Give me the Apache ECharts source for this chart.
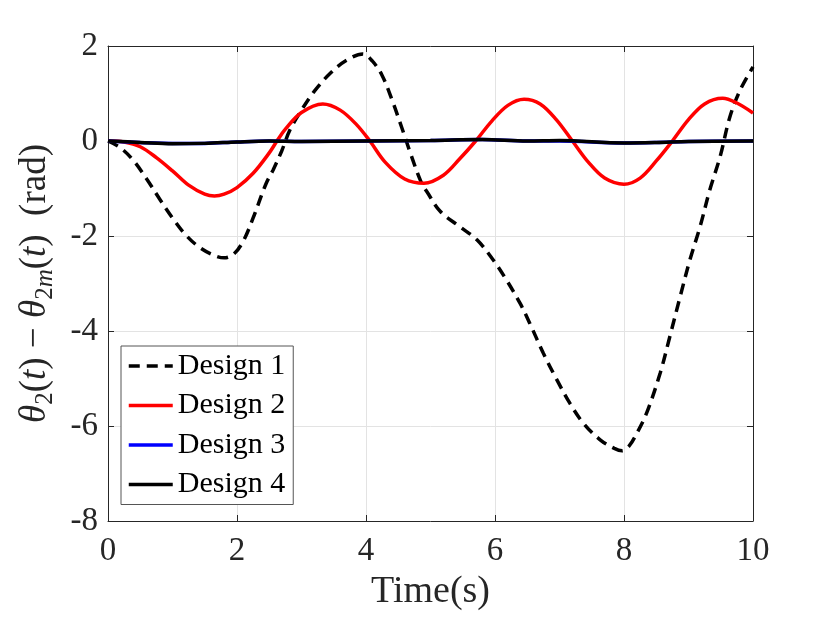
<!DOCTYPE html>
<html>
<head>
<meta charset="utf-8">
<script src="https://cdn.jsdelivr.net/npm/echarts@6/dist/echarts.min.js"></script>
<style>
  html, body { margin: 0; padding: 0; background: #fff; }
  #chart_plot_01 { width: 830px; height: 623px; }
</style>
</head>
<body>
<div id="chart_plot_01"></div>
<script>
// legend names
let design_names = ['Design 1', 'Design 2', 'Design 3', 'Design 4'];

// axis ticks
let x_ticks = [0, 2, 4, 6, 8, 10];
let y_ticks = [-8, -6, -4, -2, 0, 2];

// [time, error]
let design1 = [
  [0, 0], [0.2, -0.15], [0.4, -0.42], [0.6, -0.8], [0.8, -1.22], [1.0, -1.62],
  [1.2, -1.97], [1.4, -2.22], [1.6, -2.38], [1.8, -2.46], [1.95, -2.38], [2.1, -2.1],
  [2.25, -1.62], [2.45, -0.9], [2.56, -0.61], [2.69, -0.22], [2.82, 0.23], [3.0, 0.65],
  [3.2, 1.05], [3.45, 1.43], [3.7, 1.7], [3.95, 1.83], [4.1, 1.68], [4.25, 1.38],
  [4.4, 0.88], [4.55, 0.3], [4.7, -0.3], [4.85, -0.85], [4.95, -1.08], [5.15, -1.48],
  [5.45, -1.8], [5.72, -2.08], [5.97, -2.5], [6.18, -2.93], [6.39, -3.42], [6.54, -3.84],
  [6.75, -4.47], [6.96, -5.03], [7.16, -5.52], [7.37, -5.94], [7.63, -6.29], [7.85, -6.47],
  [7.97, -6.52], [8.08, -6.42], [8.2, -6.15], [8.35, -5.73], [8.56, -4.89], [8.71, -4.12],
  [8.87, -3.28], [9.02, -2.51], [9.18, -1.8], [9.33, -1.03], [9.49, -0.33], [9.64, 0.5],
  [9.8, 1.07], [10, 1.56]
];
let design2 = [
  [0, 0], [0.25, -0.02], [0.5, -0.12], [0.75, -0.35], [1.0, -0.63], [1.25, -0.93],
  [1.5, -1.12], [1.65, -1.16], [1.8, -1.12], [2.0, -0.98], [2.25, -0.68], [2.5, -0.25],
  [2.62, 0], [2.75, 0.25], [3.0, 0.6], [3.33, 0.78], [3.6, 0.65], [3.85, 0.35],
  [4.06, 0], [4.3, -0.45], [4.6, -0.8], [4.9, -0.89], [5.2, -0.72], [5.45, -0.38],
  [5.7, 0], [5.95, 0.42], [6.2, 0.75], [6.45, 0.88], [6.7, 0.78], [6.95, 0.45],
  [7.2, 0], [7.45, -0.45], [7.7, -0.78], [8.0, -0.91], [8.25, -0.78], [8.5, -0.42],
  [8.75, 0], [9.0, 0.45], [9.25, 0.78], [9.53, 0.9], [9.75, 0.8], [10, 0.59]
];
let design3 = [
  [0, 0], [0.5, -0.03], [1.0, -0.05], [1.5, -0.05], [2.0, -0.02], [2.5, 0.0],
  [3.0, -0.01], [4.0, 0.0], [5.0, 0.01], [5.8, 0.03], [6.5, 0.0], [7.0, 0.0],
  [8.0, -0.04], [8.5, -0.03], [9.0, -0.01], [10, 0.0]
];
let design4 = [
  [0, 0], [0.5, -0.03], [1.0, -0.06], [1.5, -0.05], [2.0, -0.02], [2.5, 0.0],
  [3.0, -0.01], [4.0, 0.0], [5.0, 0.01], [5.8, 0.03], [6.5, 0.0], [7.0, 0.01],
  [8.0, -0.04], [8.5, -0.03], [9.0, -0.01], [10, 0.0]
];

let serif = 'Liberation Serif';
let ink = '#262626';

function boxAxis(pos, isX, show_label) {
  let ticks = isX ? x_ticks : y_ticks;
  return {
    type: 'value',
    position: pos,
    min: ticks[0],
    max: ticks[ticks.length - 1],
    interval: 2,
    axisLine: { show: true, onZero: false, lineStyle: { color: ink, width: 1 } },
    axisTick: { show: true, inside: true, length: 6, lineStyle: { color: ink } },
    splitLine: { show: show_label, lineStyle: { color: '#e3e3e3', width: 1 } },
    axisLabel: {
      show: show_label,
      color: ink,
      fontFamily: serif,
      fontSize: 33,
      margin: isX ? 14 : 10
    }
  };
}

let myChart = echarts.init(document.getElementById('chart_plot_01'));

let xMain = boxAxis('bottom', true, true);
xMain.name = 'Time(s)';
xMain.nameLocation = 'middle';
xMain.nameGap = 50;
xMain.nameTextStyle = { fontFamily: serif, fontSize: 38, color: ink };

let yMain = boxAxis('left', false, true);
yMain.name = '{i|θ}{s|2}{n|(}{i|t}{n|) − }{i|θ}{s|2}{si|m}{n|(}{i|t}{n|)  (rad)}';
yMain.nameLocation = 'middle';
yMain.nameGap = 50;
yMain.nameTextStyle = {
  color: ink,
  fontFamily: serif,
  rich: {
    n: { fontFamily: serif, fontSize: 37, color: ink, lineHeight: 46 },
    i: { fontFamily: serif, fontSize: 37, fontStyle: 'italic', color: ink, lineHeight: 46 },
    s: { fontFamily: serif, fontSize: 25, color: ink, lineHeight: 30, verticalAlign: 'bottom' },
    si: { fontFamily: serif, fontSize: 25, fontStyle: 'italic', color: ink, lineHeight: 30, verticalAlign: 'bottom' }
  }
};

function makeSerie(name, data, color, dash) {
  return {
    name: name,
    type: 'line',
    data: data,
    smooth: 0.35,
    symbol: 'none',
    showSymbol: false,
    animation: false,
    lineStyle: { color: color, width: 3.5, type: dash ? [11, 7] : 'solid' },
    itemStyle: { color: color }
  };
}

let option = {
  backgroundColor: '#fff',
  animation: false,
  grid: { left: 108, right: 77, top: 46, bottom: 102, containLabel: false },
  legend: {
    data: design_names,
    orient: 'vertical',
    left: 121,
    top: 346,
    width: 181,
    padding: [5, 8, 5, 6],
    itemWidth: 44,
    itemHeight: 20,
    itemGap: 9.5,
    itemStyle: { opacity: 0 },
    lineStyle: { width: 3.5 },
    backgroundColor: '#fff',
    borderColor: '#555',
    borderWidth: 1,
    borderRadius: 0,
    textStyle: { fontFamily: serif, fontSize: 30, color: '#000', lineHeight: 30 }
  },
  xAxis: [xMain, boxAxis('top', true, false)],
  yAxis: [yMain, boxAxis('right', false, false)],
  series: [
    makeSerie(design_names[0], design1, '#000000', true),
    makeSerie(design_names[1], design2, '#ff0000', false),
    makeSerie(design_names[2], design3, '#0000ff', false),
    makeSerie(design_names[3], design4, '#000000', false)
  ]
};

myChart.setOption(option);
</script>
</body>
</html>
